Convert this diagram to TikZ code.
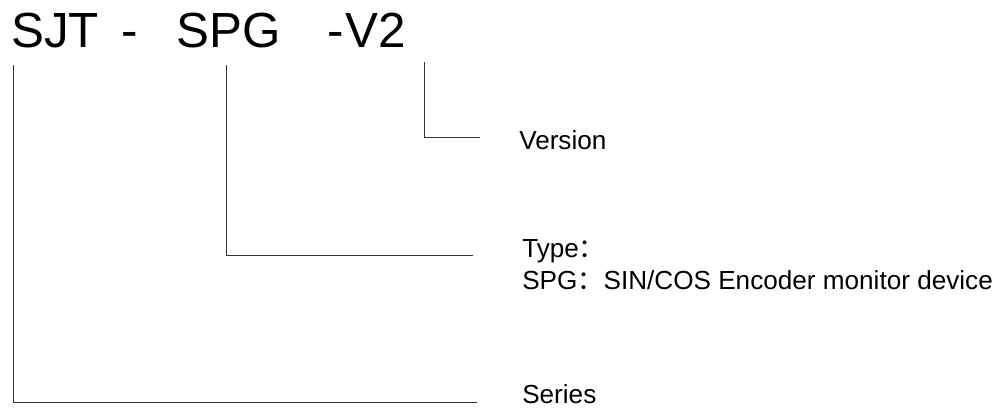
\documentclass[tikz,border=0pt]{standalone}
\usepackage{fontspec}
\setmainfont{Liberation Sans}
\newfontfamily\cjk{Noto Sans CJK SC}
\usetikzlibrary{positioning}
\begin{document}
\begin{tikzpicture}[x=0.75pt, y=-0.75pt,
		code/.style={anchor=base west, inner sep=0pt, font=\fontsize{37}{40}\selectfont},
		lab/.style={anchor=base west, inner sep=0pt, font=\fontsize{19.6}{23}\selectfont},
		leader/.style={draw=black!80, line width=0.7pt}]
		\useasboundingbox (0,0) rectangle (1000,408);
		% model code
		\node[code] (sjt) at (11,47) {SJT};
		\node[code] (d1) at (121,47) {-};
		\node[code] (spg) at (176,47) {SPG};
		\node[code] (d2) at (327,47) {-};
		\node[code] (v2) at (345,47) {V2};
		% labels
		\node[lab] (ver) at (519,149) {Version};
		\node[lab] (type) at (522,257) {Type{\cjk ：}};
		\node[lab] (desc) at (522,289) {SPG{\cjk ：}SIN/COS Encoder monitor device};
		\node[lab] (series) at (522,403) {Series};
		% leader lines
		\coordinate (vtop) at (424,62);
		\coordinate (vend) at (480,137);
		\coordinate (ttop) at (226,65);
		\coordinate (tend) at (473,255);
		\coordinate (stop) at (13,65);
		\coordinate (send) at (477,402);
		\draw[leader] (vtop) |- (vend);
		\draw[leader] (ttop) |- (tend);
		\draw[leader] (stop) |- (send);
	\end{tikzpicture}
\end{document}
